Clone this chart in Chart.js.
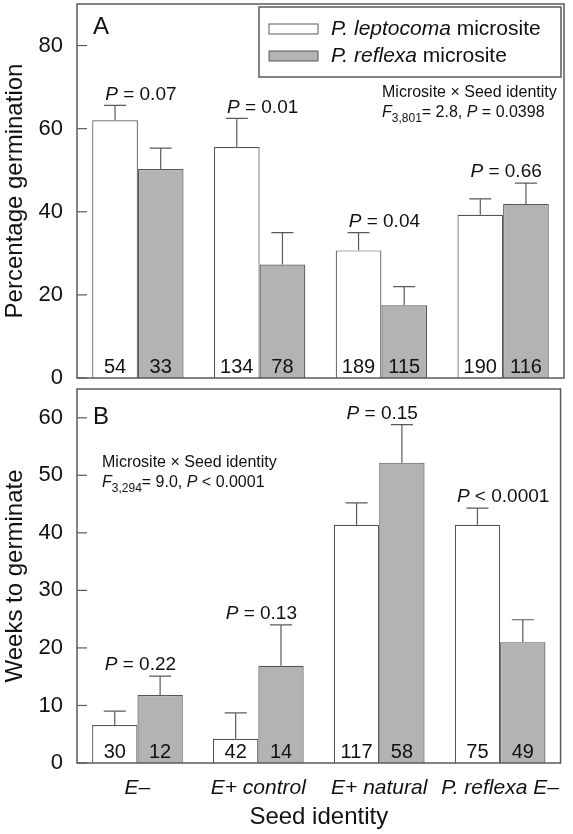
<!DOCTYPE html>
<html>
<head>
<meta charset="utf-8">
<script src="https://cdn.jsdelivr.net/npm/chart.js@4.4.0/dist/chart.umd.min.js"></script>
<style>
  body { margin: 0; background: #fff; }
  canvas { display: block; position: absolute; left: 0; }
  #chartA { top: 0; }
  #chartB { top: 380px; }
</style>
</head>
<body>
<canvas id="chartA" width="573" height="394"></canvas>
<canvas id="chartB" width="573" height="454"></canvas>
<script>
var categories = ["E\u2013", "E+ control", "E+ natural", "P. reflexa E\u2013"];
var seriesNames = ["P. leptocoma microsite", "P. reflexa microsite"];
var seriesColors = ["#ffffff", "#b3b3b3"];

// panel A - percentage germination
var germLepto = [62.0, 55.6, 30.7, 39.3];
var germReflexa = [50.3, 27.3, 17.5, 41.9];
var germLeptoErr = [3.6, 6.9, 4.3, 3.8];
var germReflexaErr = [5.0, 7.7, 4.5, 5.0];
var germLeptoN = [54, 134, 189, 190];
var germReflexaN = [33, 78, 115, 116];
var germP = ["= 0.07", "= 0.01", "= 0.04", "= 0.66"];
var germTicks = [0, 20, 40, 60, 80];

// panel B - weeks to germinate
var weeksLepto = [6.6, 4.2, 41.4, 41.4];
var weeksReflexa = [11.8, 16.9, 52.2, 21.0];
var weeksLeptoErr = [2.4, 4.5, 3.8, 2.9];
var weeksReflexaErr = [3.3, 7.1, 6.6, 3.9];
var weeksLeptoN = [30, 42, 117, 75];
var weeksReflexaN = [12, 14, 58, 49];
var weeksP = ["= 0.22", "= 0.13", "= 0.15", "< 0.0001"];
var weeksTicks = [0, 10, 20, 30, 40, 50, 60];

var FONT = "'Liberation Sans', Arial, sans-serif";
var INK = "#111";
var LINE = "#5a5a5a";
Chart.defaults.font.family = FONT;

function setFont(ctx, size, italic) {
  ctx.font = (italic ? "italic " : "") + size + "px " + FONT;
}

// draw a run of text pieces one after another
function drawRun(ctx, parts, x, y, center) {
  var w = 0;
  parts.forEach(function (p) { setFont(ctx, p.size, p.italic); w += ctx.measureText(p.text).width; });
  if (center) x -= w / 2;
  ctx.textAlign = "left";
  parts.forEach(function (p) {
    setFont(ctx, p.size, p.italic);
    ctx.fillText(p.text, x, y + (p.dy || 0));
    x += ctx.measureText(p.text).width;
  });
}

function decor(opt) {
  return {
    id: "decor",
    afterDatasetsDraw: function (chart) {
      var ctx = chart.ctx, area = chart.chartArea, ys = chart.scales.y, xs = chart.scales.x;
      ctx.save();
      ctx.fillStyle = INK;
      ctx.strokeStyle = LINE;
      var tops = [];
      chart.data.datasets.forEach(function (ds, di) {
        chart.getDatasetMeta(di).data.forEach(function (bar, i) {
          var top = ys.getPixelForValue(ds.data[i] + opt.errors[di][i]);
          tops[i] = tops[i] === undefined ? top : Math.min(tops[i], top);
          ctx.lineWidth = 1.2;
          ctx.beginPath();
          ctx.moveTo(bar.x, bar.y);
          ctx.lineTo(bar.x, top);
          ctx.moveTo(bar.x - 11, top);
          ctx.lineTo(bar.x + 11, top);
          ctx.stroke();
          setFont(ctx, 20);
          ctx.textAlign = "center";
          ctx.textBaseline = "alphabetic";
          ctx.fillText(String(opt.counts[di][i]), bar.x, area.bottom - 5);
        });
      });

      // P values above each group
      ctx.textBaseline = "middle";
      opt.pvals.forEach(function (p, i) {
        drawRun(ctx, [{ text: "P", size: 19, italic: true }, { text: " " + p, size: 19 }],
          xs.getPixelForValue(i) + 3, tops[i] - 11, true);
      });

      // frame and inward ticks
      ctx.lineWidth = 1.5;
      ctx.strokeRect(area.left, area.top, area.right - area.left, area.bottom - area.top);
      ctx.lineWidth = 1.2;
      ys.ticks.forEach(function (t) {
        var py = ys.getPixelForValue(t.value);
        ctx.beginPath();
        ctx.moveTo(area.left, py);
        ctx.lineTo(area.left + 10, py);
        ctx.stroke();
      });

      // panel letter
      setFont(ctx, 24);
      ctx.textAlign = "left";
      ctx.fillText(opt.letter, area.left + 16, area.top + opt.letterDy);

      // interaction statistics
      var sx = area.left + opt.statDx, sy = area.top + opt.statDy;
      drawRun(ctx, [{ text: "Microsite \u00d7 Seed identity", size: 16 }], sx, sy);
      drawRun(ctx, [
        { text: "F", size: 16, italic: true },
        { text: opt.df, size: 12, dy: 6 },
        { text: "= " + opt.fval + ", ", size: 16 },
        { text: "P", size: 16, italic: true },
        { text: " " + opt.pval, size: 16 }
      ], sx, sy + 20);

      // legend box
      if (opt.legend) {
        var bx = area.right - 305, by = area.top + 3;
        ctx.lineWidth = 1.5;
        ctx.strokeRect(bx, by, 302, 70);
        chart.data.datasets.forEach(function (ds, di) {
          var ly = by + 22 + di * 27;
          ctx.fillStyle = ds.backgroundColor;
          ctx.fillRect(bx + 10, ly - 5, 49, 10);
          ctx.lineWidth = 1;
          ctx.strokeRect(bx + 10, ly - 5, 49, 10);
          ctx.fillStyle = INK;
          var cut = ds.label.lastIndexOf(" ");
          drawRun(ctx, [
            { text: ds.label.slice(0, cut), size: 21, italic: true },
            { text: ds.label.slice(cut), size: 21 }
          ], bx + 72, ly);
        });
      }
      ctx.restore();
    }
  };
}

function datasets(a, b) {
  return [a, b].map(function (vals, i) {
    return {
      label: seriesNames[i],
      data: vals,
      backgroundColor: seriesColors[i],
      borderColor: "#555",
      borderWidth: 1.2,
      categoryPercentage: 0.75,
      barPercentage: 1.0
    };
  });
}

function yAxis(max, ticks, title) {
  return {
    min: 0,
    max: max,
    afterFit: function (s) {
      s.width = 77;
      s.paddingTop = 0;
      s.paddingBottom = 0;
    },
    afterBuildTicks: function (s) { s.ticks = ticks.map(function (v) { return { value: v }; }); },
    grid: { display: false, drawTicks: false },
    border: { display: false },
    ticks: { padding: 14, color: INK, font: { size: 22 } },
    title: { display: true, text: title, color: INK, font: { size: 24 }, padding: { top: 1, bottom: 0 } }
  };
}

new Chart("chartA", {
  type: "bar",
  data: { labels: categories, datasets: datasets(germLepto, germReflexa) },
  options: {
    responsive: false,
    animation: false,
    layout: { padding: { top: 4, right: 9, bottom: 16, left: 0 } },
    scales: {
      x: { display: false },
      y: yAxis(90, germTicks, "Percentage germination")
    },
    plugins: { legend: { display: false }, tooltip: { enabled: false } }
  },
  plugins: [decor({
    errors: [germLeptoErr, germReflexaErr],
    counts: [germLeptoN, germReflexaN],
    pvals: germP,
    letter: "A", letterDy: 23,
    statDx: 305, statDy: 89,
    df: "3,801", fval: "2.8", pval: "= 0.0398",
    legend: true
  })]
});

new Chart("chartB", {
  type: "bar",
  data: { labels: categories, datasets: datasets(weeksLepto, weeksReflexa) },
  options: {
    responsive: false,
    animation: false,
    layout: { padding: { top: 9, right: 9, bottom: 0, left: 0 } },
    scales: {
      x: {
        afterFit: function (s) { s.height = 71; },
        grid: { display: false, drawTicks: false },
        border: { display: false },
        ticks: { padding: 13, color: INK, font: { size: 21, style: "italic" }, maxRotation: 0, autoSkip: false },
        title: { display: true, text: "Seed identity", color: INK, font: { size: 24 }, padding: { top: 0, bottom: 2 } }
      },
      y: yAxis(65, weeksTicks, "Weeks to germinate")
    },
    plugins: { legend: { display: false }, tooltip: { enabled: false } }
  },
  plugins: [decor({
    errors: [weeksLeptoErr, weeksReflexaErr],
    counts: [weeksLeptoN, weeksReflexaN],
    pvals: weeksP,
    letter: "B", letterDy: 28,
    statDx: 25, statDy: 74,
    df: "3,294", fval: "9.0", pval: "< 0.0001",
    legend: false
  })]
});
</script>
</body>
</html>
